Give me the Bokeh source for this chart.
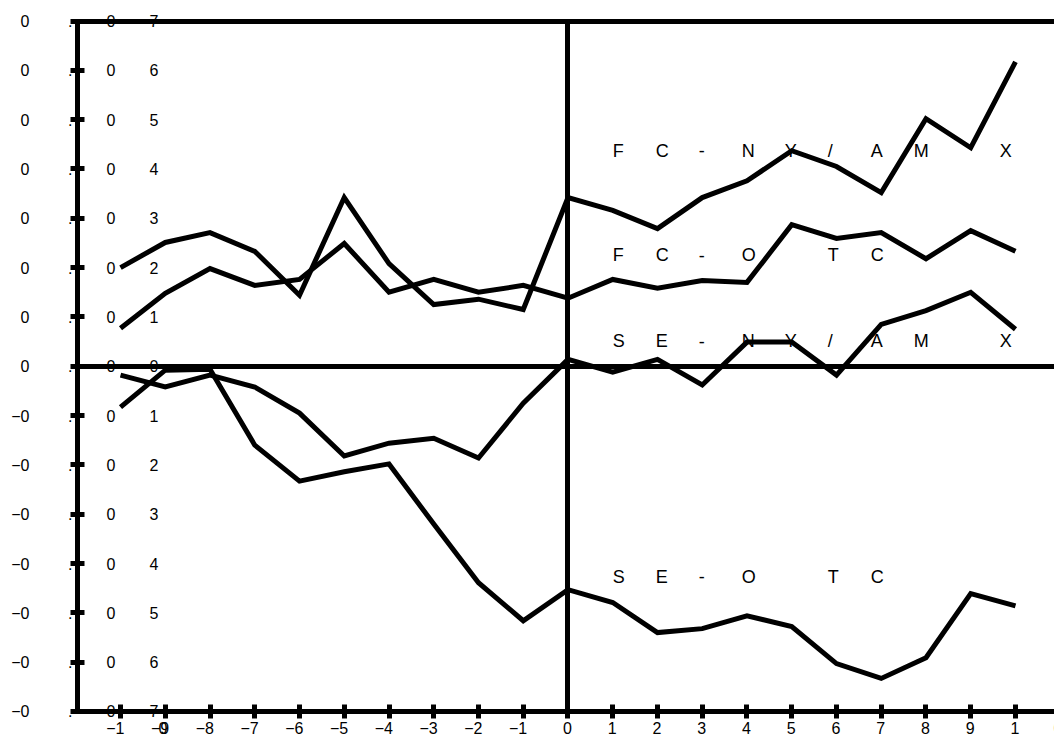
from bokeh.plotting import figure
from bokeh.models import Range1d, FixedTicker, LinearAxis, ColumnDataSource
from bokeh.core.properties import value
from bokeh.embed import file_html
from bokeh.resources import INLINE

# ---- data ----
lags = list(range(-10, 11))
fc_nyamx = [0.0200, 0.0251, 0.0271, 0.0233, 0.0144, 0.0342, 0.0208, 0.0125, 0.0136, 0.0115,
            0.0342, 0.0316, 0.0279, 0.0342, 0.0376, 0.0437, 0.0405, 0.0352, 0.0502, 0.0443, 0.0617]
fc_otc = [0.0077, 0.0148, 0.0198, 0.0164, 0.0176, 0.0249, 0.0150, 0.0176, 0.0150, 0.0164,
          0.0138, 0.0176, 0.0158, 0.0174, 0.0170, 0.0287, 0.0259, 0.0271, 0.0218, 0.0275, 0.0233]
se_nyamx = [-0.0018, -0.0042, -0.0018, -0.0042, -0.0095, -0.0182, -0.0156, -0.0146, -0.0186, -0.0075,
            0.0014, -0.0012, 0.0014, -0.0038, 0.0049, 0.0049, -0.0018, 0.0085, 0.0113, 0.0150, 0.0075]
se_otc = [-0.0083, -0.0008, -0.0006, -0.0160, -0.0233, -0.0214, -0.0198, -0.0320, -0.0439, -0.0516,
          -0.0453, -0.0479, -0.0540, -0.0532, -0.0506, -0.0528, -0.0603, -0.0633, -0.0591, -0.0461, -0.0486]

x_ticks = list(range(-10, 11))
y_ticks = [k / 100 for k in range(-7, 8)]

series_labels = ["FC-NY/AM X", "FC-O TC", "SE-NY/AM X", "SE-O TC"]
label_y = [0.0437, 0.0225, 0.0051, -0.0427]
label_x = 1

# ---- layout constants ----
X_LEFT, X_RIGHT = -12.682, 10.872      # full canvas
Y_BOTTOM, Y_TOP = -0.07487, 0.07416
AXIS_X = -10.961                        # where the value axis sits
Y_LO, Y_HI = -0.07, 0.07
PITCH = 43
FONT = value("Liberation Sans")


def groups(s):
    """split a label into character cells, keeping a minus with the next char"""
    out, i = [], 0
    while i < len(s):
        if s[i] == "\u2212" and i + 1 < len(s):
            out.append(s[i:i + 2]); i += 2
        else:
            out.append(s[i]); i += 1
    return out


p = figure(width=1054, height=735, x_range=Range1d(X_LEFT, X_RIGHT), y_range=Range1d(Y_BOTTOM, Y_TOP),
           output_backend="svg", toolbar_location=None,
           x_axis_location=None, y_axis_location=None, min_border=0)
p.min_border_left = p.min_border_right = p.min_border_top = p.min_border_bottom = 0
p.outline_line_color = None
p.grid.visible = False


def make_axis(loc, bounds, ticks):
    ax = LinearAxis(fixed_location=loc, bounds=bounds, ticker=FixedTicker(ticks=ticks))
    ax.axis_line_width = 5
    ax.axis_line_color = "black"
    ax.major_tick_line_width = 5
    ax.major_tick_line_color = "black" if ticks else None
    ax.major_tick_in = 7
    ax.major_tick_out = 7
    ax.minor_tick_line_color = None
    ax.major_label_text_color = None
    ax.major_label_standoff = 0
    return ax


p.add_layout(make_axis(AXIS_X, (Y_LO, Y_HI), y_ticks), "left")
p.add_layout(make_axis(0, (Y_LO, Y_HI), []), "left")
p.add_layout(make_axis(Y_LO, (AXIS_X, X_RIGHT), x_ticks), "below")
p.add_layout(make_axis(0, (AXIS_X, X_RIGHT), []), "below")
p.add_layout(make_axis(Y_HI, (AXIS_X, X_RIGHT), []), "above")

for ys in [fc_nyamx, fc_otc, se_nyamx, se_otc]:
    p.line(lags, ys, line_color="black", line_width=5, line_join="miter")

# series labels (fixed-pitch characters)
lx, ly, lt, lo = [], [], [], []
for lab, yv in zip(series_labels, label_y):
    for k, ch in enumerate(lab):
        if ch == " ":
            continue
        lx.append(label_x); ly.append(yv); lt.append(ch); lo.append(k * PITCH)
p.text(x="x", y="y", text="text", x_offset="xoff",
       source=ColumnDataSource(dict(x=lx, y=ly, text=lt, xoff=lo)),
       text_font=FONT, text_font_size="18px", text_align="left", text_baseline="middle",
       text_color="black")

# y tick labels
yx, yy, yt, yo = [], [], [], []
for v in y_ticks:
    s = "0.00" if abs(v) < 1e-12 else f"{v:.2f}".replace("-", "\u2212")
    for k, g in enumerate(groups(s)):
        yx.append(AXIS_X); yy.append(v); yt.append(g); yo.append(-48 + k * PITCH)
p.text(x="x", y="y", text="text", x_offset="xoff",
       source=ColumnDataSource(dict(x=yx, y=yy, text=yt, xoff=yo)),
       text_font=FONT, text_font_size="16px", text_align="right",
       text_baseline="middle", text_color="black")

# x tick labels
xx, xy, xt, xo = [], [], [], []
for t in x_ticks:
    s = str(t).replace("-", "\u2212")
    for k, g in enumerate(groups(s)):
        xx.append(t); xy.append(Y_LO); xt.append(g); xo.append(4 + k * PITCH)
p.text(x="x", y="y", text="text", x_offset="xoff", y_offset=17,
       source=ColumnDataSource(dict(x=xx, y=xy, text=xt, xoff=xo)),
       text_font=FONT, text_font_size="16px", text_align="right",
       text_baseline="alphabetic", text_color="black")

open("out.html", "w").write(file_html(p, INLINE))
